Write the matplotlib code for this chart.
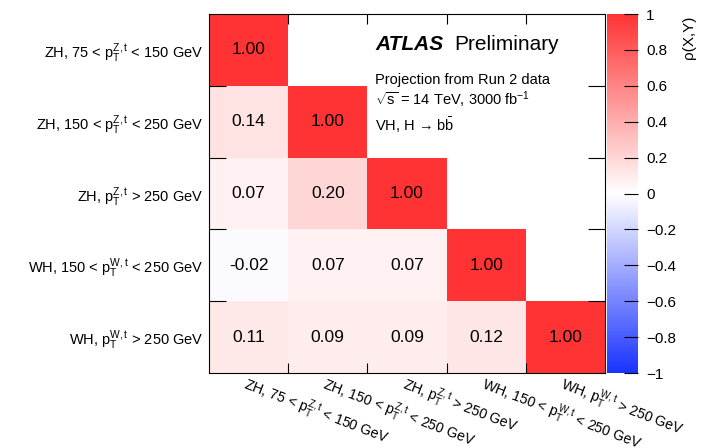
import numpy as np
import matplotlib
matplotlib.use('Agg')
import matplotlib.pyplot as plt
from matplotlib.colors import LinearSegmentedColormap

#Fonts: Helvetica-like look
matplotlib.rcParams.update({'font.family': 'Liberation Sans',
                            'mathtext.fontset': 'custom',
                            'mathtext.rm': 'Liberation Sans',
                            'mathtext.it': 'Liberation Sans:italic',
                            'mathtext.bf': 'Liberation Sans:bold'})

#Data
bins = ['ZH, 75 < $\\mathrm{p}_{\\mathrm{T}}^{\\mathrm{Z,t}}$ < 150 GeV',
        'ZH, 150 < $\\mathrm{p}_{\\mathrm{T}}^{\\mathrm{Z,t}}$ < 250 GeV',
        'ZH, $\\mathrm{p}_{\\mathrm{T}}^{\\mathrm{Z,t}}$ > 250 GeV',
        'WH, 150 < $\\mathrm{p}_{\\mathrm{T}}^{\\mathrm{W,t}}$ < 250 GeV',
        'WH, $\\mathrm{p}_{\\mathrm{T}}^{\\mathrm{W,t}}$ > 250 GeV']
row0 = [1.00, np.nan, np.nan, np.nan, np.nan]
row1 = [0.14, 1.00, np.nan, np.nan, np.nan]
row2 = [0.07, 0.20, 1.00, np.nan, np.nan]
row3 = [-0.02, 0.07, 0.07, 1.00, np.nan]
row4 = [0.11, 0.09, 0.09, 0.12, 1.00]
corr = np.array([row0, row1, row2, row3, row4])
n = len(bins)

cmap = LinearSegmentedColormap.from_list('bwr_root', [(0.10, 0.20, 1.0), (1, 1, 1), (1.0, 0.20, 0.20)])

fig = plt.figure(figsize=(7.07, 4.48), dpi=100)
ax = fig.add_axes([0.2956, 0.1674, 0.5601, 0.8013])
cax = fig.add_axes([0.8586, 0.1674, 0.0438, 0.8013])

im = ax.pcolormesh(np.arange(n + 1), np.arange(n + 1), np.ma.masked_invalid(corr),
                   cmap=cmap, vmin=-1, vmax=1)
ax.set_xlim(0, n)
ax.set_ylim(n, 0)

for i in range(n):
    for j in range(n):
        if not np.isnan(corr[i, j]):
            ax.text(j + 0.5, i + 0.5, '%.2f' % corr[i, j], ha='center', va='center', fontsize=12.5)

#ticks at cell edges, labels at cell centres
ax.set_xticks(np.arange(1, n))
ax.set_yticks(np.arange(1, n))
ax.set_xticklabels([])
ax.set_yticklabels([])
ax.set_xticks(np.arange(n) + 0.5, minor=True)
ax.set_yticks(np.arange(n) + 0.5, minor=True)
ax.set_xticklabels(bins, minor=True, rotation=-21, ha='left', va='top',
                   rotation_mode='anchor', fontsize=10.2)
ax.set_yticklabels(bins, minor=True, fontsize=10.5)
ax.tick_params(which='major', direction='in', top=True, right=True)
ax.tick_params(axis='y', which='major', length=12)
ax.tick_params(axis='x', which='major', length=7)
ax.tick_params(which='minor', length=0)
ax.tick_params(axis='x', which='minor', pad=0.5)
ax.tick_params(axis='y', which='minor', pad=4)

#labels
ax.text(0.42, 0.90, 'ATLAS', transform=ax.transAxes, fontsize=15,
        fontweight='bold', style='italic', va='baseline')
ax.text(0.62, 0.90, 'Preliminary', transform=ax.transAxes, fontsize=15, va='baseline')
ax.text(0.42, 0.815, 'Projection from Run 2 data', transform=ax.transAxes, fontsize=10.5, va='center')
ax.text(0.42, 0.76, '$\\sqrt{\\mathrm{s}}$ = 14 TeV, 3000 fb$^{-1}$', transform=ax.transAxes,
        fontsize=10.5, va='center')
ax.text(0.42, 0.69, 'VH, H \u2192 b$\\bar{\\mathrm{b}}$', transform=ax.transAxes,
        fontsize=10.5, va='center')

#colour bar
cb = fig.colorbar(im, cax=cax, ticks=np.arange(-1, 1.01, 0.2))
cb.outline.set_visible(False)
cax.tick_params(direction='in', length=10, labelsize=11, pad=6)
cb.set_ticklabels(['\u22121', '\u22120.8', '\u22120.6', '\u22120.4', '\u22120.2', '0',
                   '0.2', '0.4', '0.6', '0.8', '1'])
fig.text(0.975, 0.965, '\u03c1(X,Y)', rotation=90, ha='center', va='top', fontsize=11)

plt.savefig('out.png', dpi=100)
